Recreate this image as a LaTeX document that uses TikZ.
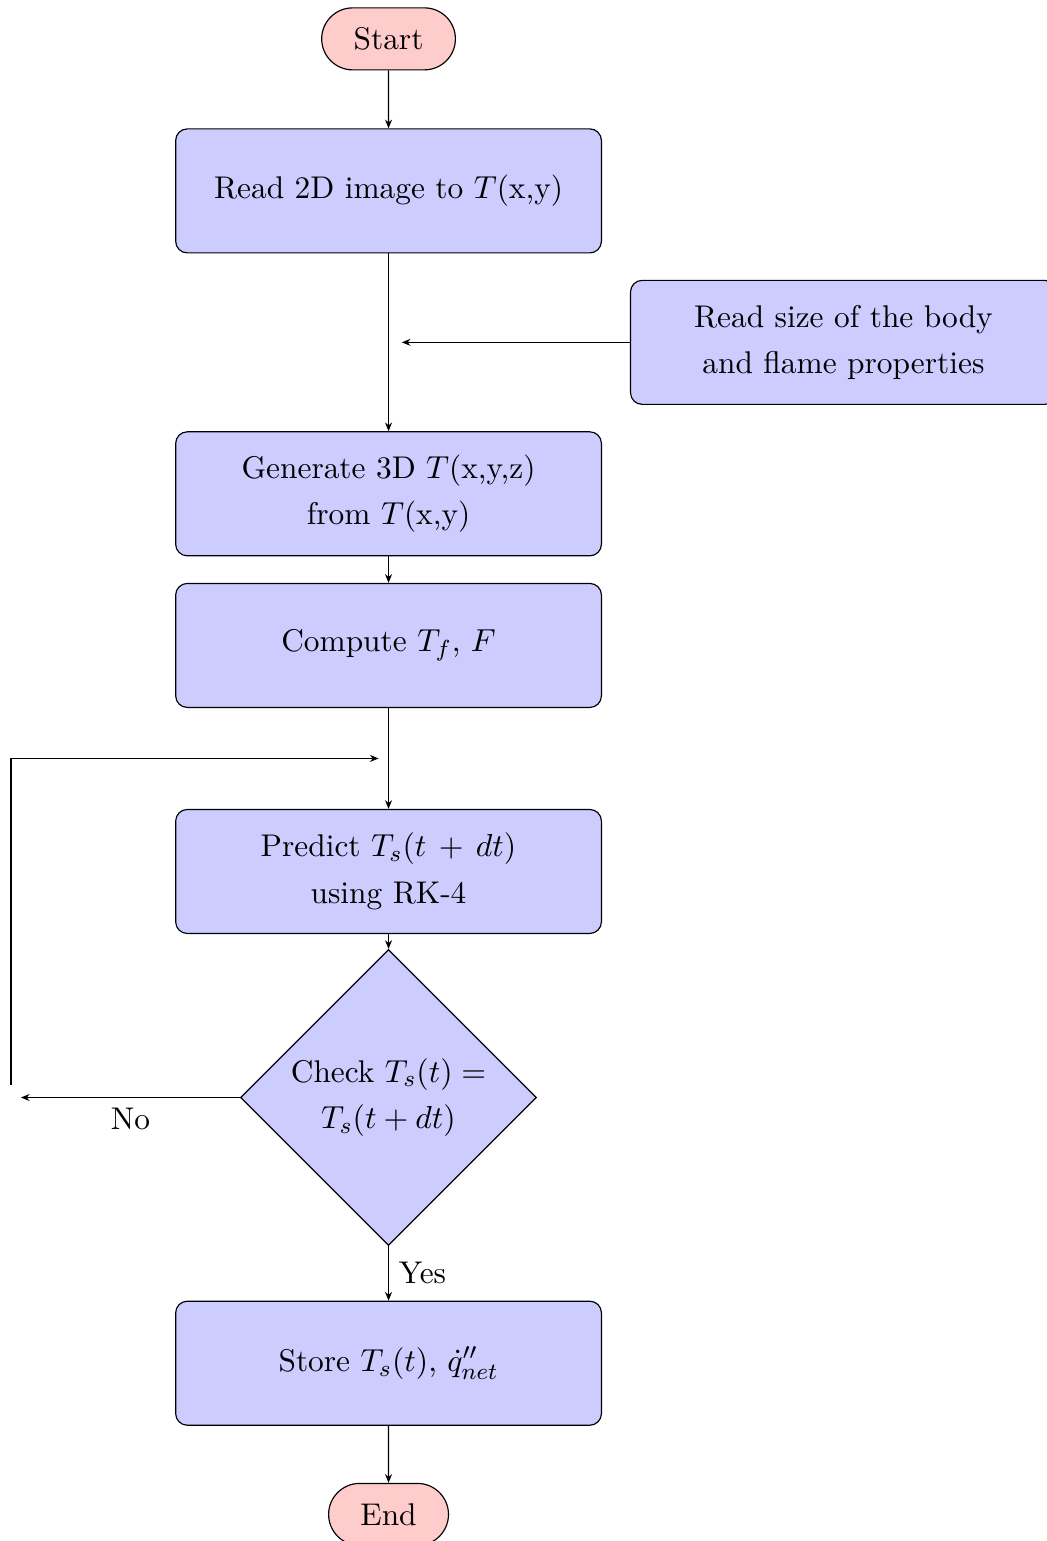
\documentclass[tikz,border=0pt]{standalone}
\usepackage{amsmath}
\usepackage{tikz}
\usetikzlibrary{shapes.geometric, shapes.misc, arrows.meta, positioning, calc}

\tikzset{
  every node/.style={font=\fontsize{10.8pt}{13pt}\selectfont},
  startstop/.style={rounded rectangle, draw, fill=red!20,
                    minimum height=0.75cm, inner xsep=0.36cm, text centered},
  process/.style={rectangle, draw, fill=blue!20,
                  minimum width=5.15cm, minimum height=1.5cm,
                  align=center, rounded corners},
  decision/.style={diamond, draw, fill=blue!20,
                   minimum width=3.58cm, minimum height=3.58cm,
                   inner sep=0pt, align=center},
  arrow/.style={-{Stealth[length=3pt, width=2.4pt]}}
}

\begin{document}
\begin{tikzpicture}
  \useasboundingbox (-4.70,0.47) rectangle (7.96,-18.17);

  % Main column
  \node[startstop] (start) {Start};
  \node[process, below=0.70cm of start] (read) {Read 2D image to $T$(x,y)};
  \node[process, below=2.15cm of read] (gen) {Generate 3D $T$(x,y,z)\\[3pt] from $T$(x,y)};
  \node[process, below=0.32cm of gen] (comp) {Compute $T_f$, $F$};
  \node[process, below=1.22cm of comp] (pred) {Predict $T_s(t\,+\,dt)$\\[3pt] using RK-4};
  \node[decision, below=0.18cm of pred] (dec) {Check $T_s(t) =$\\[3pt] $T_s(t+dt)$};
  \node[process, below=0.66cm of dec] (store) {Store $T_s(t)$, $\dot{q}''_{net}$};
  \node[startstop, below=0.69cm of store] (stop) {End};

  % Side input
  \coordinate (mid) at ($(read.south)!0.5!(gen.north)$);
  \node[process, right=2.92cm of mid, anchor=west] (size) {Read size of the body\\[3pt] and flame properties};
  \coordinate (join) at ([xshift=0.16cm]mid);

  % Loop back point
  \coordinate (loop) at ($(comp.south)!0.5!(pred.north)$);
  \coordinate (back) at ([xshift=-0.12cm]loop);
  \coordinate (noend) at ([xshift=-2.65cm]dec.west);

  % Arrows
  \draw[arrow] (start) -- (read);
  \draw[arrow] (read) -- (gen);
  \draw[arrow] (size.west) -- (join);
  \draw[arrow] (gen) -- (comp);
  \draw[arrow] (comp) -- (pred);
  \draw[arrow] (pred) -- (dec);
  \draw[arrow] (dec.west) -- node[below] {No} (noend);
  \draw[arrow] ([xshift=-0.12cm,yshift=0.157cm]noend) |- (back);
  \draw[arrow] (dec) -- node[right] {Yes} (store);
  \draw[arrow] (store) -- (stop);
\end{tikzpicture}
\end{document}
